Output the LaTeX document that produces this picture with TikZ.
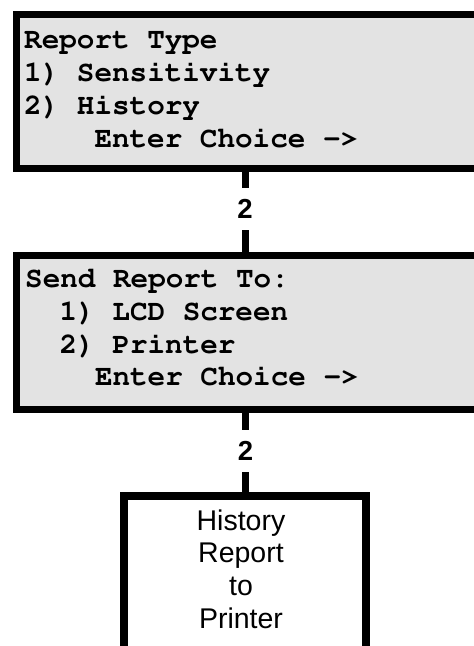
\documentclass[tikz,border=0pt]{standalone}
\usepackage[T1]{fontenc}
\usepackage{fontspec}
\setmainfont{Liberation Sans}
\newcommand{\courb}{\fontencoding{T1}\fontfamily{pcr}\fontseries{b}\fontshape{n}}
\definecolor{panelgray}{RGB}{227,227,227}
\begin{document}
\begin{tikzpicture}[x=1pt,y=-1pt,
  panel/.style={draw=black, fill=panelgray, line width=7.5pt, rectangle, inner sep=0pt, anchor=north west},
  resultbox/.style={draw=black, fill=white, line width=7.5pt, rectangle, inner sep=0pt, anchor=north west},
  lcd/.style={anchor=base west, inner sep=0pt, font=\courb\fontsize{29.3}{33}\selectfont},
  res/.style={anchor=base, inner sep=0pt, font=\fontsize{28.5}{32.7}\selectfont},
  choice/.style={inner sep=0pt, minimum height=42pt, font=\fontsize{22}{25}\selectfont\bfseries},
  conn/.style={line width=7pt, black}]
\useasboundingbox (0,0) rectangle (474,646);
% boxes
\node[panel, minimum width=500pt, minimum height=154.25pt] (b1) at (12.75,10.5) {};
\node[panel, minimum width=500pt, minimum height=154pt] (b2) at (12.75,251.5) {};
\node[resultbox, minimum width=242pt, minimum height=180pt] (b3) at (120,492) {};
% box 1 text
\node[lcd] (t11) at (24,48) {Report Type};
\node[lcd] (t12) at (24,81) {1) Sensitivity};
\node[lcd] (t13) at (24,114) {2) History};
\node[lcd] (t14) at (94.3,147) {Enter Choice ->};
% box 2 text
\node[lcd] (t21) at (25,287) {Send Report To:};
\node[lcd] (t22) at (59.5,320) {1) LCD Screen};
\node[lcd] (t23) at (59.5,353) {2) Printer};
\node[lcd] (t24) at (94.8,385) {Enter Choice ->};
% box 3 text
\node[res] (h1) at (241,530) {History};
\node[res] (h2) at (241,562.7) {Report};
\node[res] (h3) at (241,595.4) {to};
\node[res] (h4) at (241,628) {Printer};
% connectors
\node[choice] (l1) at (245,209) {\scalebox{1.25}{2}};
\node[choice] (l2) at (245.5,451) {\scalebox{1.25}{2}};
\draw[conn] (b1.south -| l1) -- (l1);
\draw[conn] (l1) -- (b2.north -| l1);
\draw[conn] (b2.south -| l2) -- (l2);
\draw[conn] (l2) -- (b3.north -| l2);
\end{tikzpicture}
\end{document}
